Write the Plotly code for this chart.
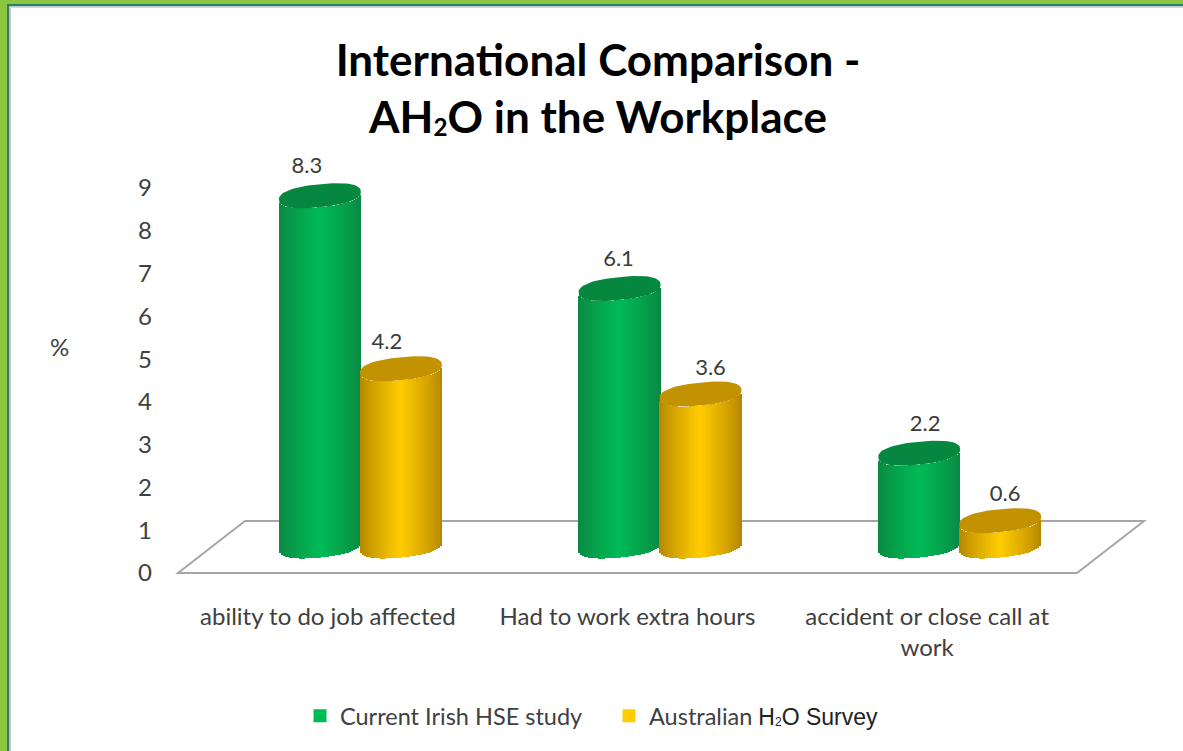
import math
import plotly.graph_objects as go

# ---- data ----
categories = ["ability to do job affected", "Had to work extra hours", "accident or close call at<br>work"]
irish_hse = [8.3, 6.1, 2.2]
australian = [4.2, 3.6, 0.6]
y_ticks = [0, 1, 2, 3, 4, 5, 6, 7, 8, 9]
SUB2 = '<span style="font-size:55%;baseline-shift:-0.12em">2</span>'
SUB2B = '<span style="font-family:Liberation Sans;font-size:12px;baseline-shift:-0.12em;color:#222222">2</span>'
ARIAL = '<span style="font-family:Liberation Sans;font-size:23px;color:#222222">%s</span>'
series_names = ["Current Irish HSE study",
                "Australian " + ARIAL % "H" + SUB2B + ARIAL % "O Survey"]
title_text = "International Comparison -<br>AH" + SUB2 + "O in the Workplace"

# ---- geometry / style ----
W, H = 1183, 751
L, R, T, B = 178, 1077, 150, 573          # front plane of the chart in pixels (headroom above the 9 tick)
AXIS_UNIT = 385 / 9.0                     # pixels per unit on the visible axis
UX = (R - L) / 3.0
Y0_PX, UY = 546.0, 42.2                   # cylinders stand on the raised floor
Y2_RANGE = [(Y0_PX - B) / UY, (Y0_PX - T) / UY]
RADIUS = 41 / UX
ELL_H = 11.5 / UY
TILT = 4 / UY
EXPO = 2.4
STRIPS = 41
OFFSETS = [-8 / UX, 73 / UX]
LABEL_DX = [[-13, -1, 6], [-14, 10, 5]]
LABEL_DY = [28, 25]
GREEN = ((10, 135, 65), (0, 186, 86))
AMBER = ((178, 132, 0), (255, 204, 0))
TOPS = ["#05873F", "#C29200"]


def px(x):
    return (x - L) / (R - L)


def py(y):
    return (B - y) / (B - T)


def shade(cols, t):
    k = (1 - abs(t)) ** 0.8
    return "rgb(%d,%d,%d)" % tuple(round(a + (b - a) * k) for a, b in zip(*cols))


fig = go.Figure()

for s, (vals, cols, top) in enumerate(zip([irish_hse, australian], [GREEN, AMBER], TOPS)):
    xs, bases, hs, colors = [], [], [], []
    dw = 2 * RADIUS / STRIPS
    for i, v in enumerate(vals):
        cx = i + OFFSETS[s]
        for j in range(STRIPS):
            t = -1 + (j + 0.5) * 2 / STRIPS
            low = TILT * t - ELL_H * max(0, 1 - abs(t) ** EXPO) ** (1 / EXPO)
            xs.append(cx + t * RADIUS)
            bases.append(low)
            hs.append(v)
            colors.append(shade(cols, t))
    fig.add_trace(go.Bar(x=xs, y=hs, base=bases, width=dw * 1.02, yaxis="y2",
                         marker=dict(color=colors, line_width=0),
                         showlegend=False, hoverinfo="skip"))

# top faces of the cylinders
for s, (vals, top) in enumerate(zip([irish_hse, australian], TOPS)):
    for i, v in enumerate(vals):
        cx = i + OFFSETS[s]
        ex, ey = [], []
        for a in range(73):
            th = a * 2 * math.pi / 72
            c = math.copysign(abs(math.cos(th)) ** (2 / EXPO), math.cos(th))
            d = math.copysign(abs(math.sin(th)) ** (2 / EXPO), math.sin(th))
            ex.append(cx + RADIUS * c)
            ey.append(v + TILT * c + ELL_H * d)
        fig.add_trace(go.Scatter(x=ex, y=ey, yaxis="y2", mode="lines", fill="toself",
                                 fillcolor=top, line=dict(width=0, color=top),
                                 showlegend=False, hoverinfo="skip"))

# value labels
for s, vals in enumerate([irish_hse, australian]):
    fig.add_trace(go.Scatter(
        x=[i + OFFSETS[s] + LABEL_DX[s][i] / UX for i in range(3)],
        y=[v + LABEL_DY[s] / UY for v in vals],
        text=["%.1f" % v for v in vals], mode="text", yaxis="y2", cliponaxis=False,
        textfont=dict(family="Lato", size=22, color="#3a3a3a"),
        showlegend=False, hoverinfo="skip"))

# legend entries
for name, color in zip(series_names, [GREEN[1], AMBER[1]]):
    fig.add_trace(go.Scatter(x=[None], y=[None], mode="markers", name=name,
                             marker=dict(symbol="square", size=13, color="rgb(%d,%d,%d)" % color)))

shapes = [
    # frame
    dict(type="rect", xref="paper", yref="paper", x0=px(0), x1=px(7), y0=py(H), y1=py(0),
         fillcolor="#8CC63F", line_width=0, layer="below"),
    dict(type="rect", xref="paper", yref="paper", x0=px(0), x1=px(W), y0=py(4), y1=py(0),
         fillcolor="#8CC63F", line_width=0, layer="below"),
    dict(type="rect", xref="paper", yref="paper", x0=px(7), x1=px(9.5), y0=py(H), y1=py(4),
         fillcolor="#2F7F6F", line_width=0, layer="below"),
    dict(type="rect", xref="paper", yref="paper", x0=px(7), x1=px(W), y0=py(6.5), y1=py(4),
         fillcolor="#2F7F6F", line_width=0, layer="below"),
    dict(type="rect", xref="paper", yref="paper", x0=px(9.5), x1=px(11), y0=py(H), y1=py(6.5),
         fillcolor="#C8C8C8", line_width=0, layer="below"),
    dict(type="rect", xref="paper", yref="paper", x0=px(9.5), x1=px(W), y0=py(8), y1=py(6.5),
         fillcolor="#D8D8D8", line_width=0, layer="below"),
    # floor
    dict(type="path", xref="paper", yref="paper", layer="below",
         path="M %f %f L %f %f L %f %f L %f %f Z" % (px(L), py(B), px(245), py(521),
                                                     px(1144), py(521), px(R), py(B)),
         line=dict(color="#A6A6A6", width=2), fillcolor="rgba(255,255,255,0)"),
]

fig.update_layout(
    width=W, height=H, autosize=False,
    margin=dict(l=L, r=W - R, t=T, b=H - B, pad=0),
    paper_bgcolor="white", plot_bgcolor="rgba(0,0,0,0)",
    barmode="overlay", bargap=0,
    font=dict(family="Lato", color="#404040"),
    title=dict(text=title_text, x=598 / W, xanchor="center", xref="container",
               y=1 - 76 / H, yanchor="top",
               font=dict(family="Lato", size=44, color="#000000", weight="bold")),
    xaxis=dict(range=[-0.5, 2.5], tickvals=[0, 1, 2], ticktext=categories, ticks="",
               showgrid=False, zeroline=False, showline=False, ticklabelstandoff=27,
               tickfont=dict(family="Lato", size=24, color="#404040")),
    yaxis=dict(range=[0, (B - T) / AXIS_UNIT], tickvals=y_ticks, ticks="", showgrid=False,
               zeroline=False, showline=False, ticklabelstandoff=25,
               tickfont=dict(family="Lato", size=24, color="#404040")),
    yaxis2=dict(range=Y2_RANGE, overlaying="y", visible=False, fixedrange=True),
    legend=dict(orientation="h", x=px(300), y=py(694), xanchor="left", yanchor="top",
                font=dict(family="Lato", size=23.5, color="#404040"),
                bgcolor="rgba(0,0,0,0)", itemwidth=30, entrywidth=264, entrywidthmode="pixels"),
    shapes=shapes,
    annotations=[dict(text="%", xref="paper", yref="paper", x=px(59), y=py(346),
                      xanchor="center", yanchor="middle",
                      showarrow=False, font=dict(family="Lato", size=24, color="#404040"))],
)

fig.write_html("out.html", config={"displayModeBar": False},
               post_script="document.body.style.margin='0';document.body.style.overflow='hidden';")
